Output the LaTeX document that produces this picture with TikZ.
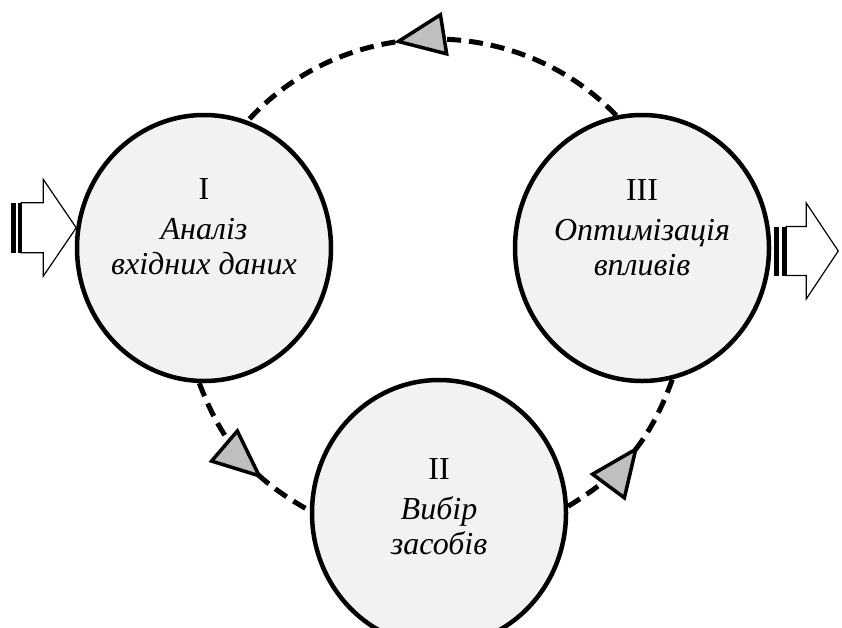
\documentclass[tikz,border=0pt]{standalone}
\usepackage{fontspec}
\setmainfont{Liberation Serif}
\usetikzlibrary{shapes.geometric,arrows.meta,decorations.markings,positioning}

\definecolor{stagefill}{HTML}{F2F2F2}
\definecolor{tipfill}{HTML}{BFBFBF}

\tikzset{%
  every stage/.style={
    ellipse,
    draw,
    line width=4.5pt,
    fill=stagefill,
    minimum width=254pt,
    minimum height=266pt,
    inner sep=0pt
  },
  stage text/.style={
    align=center,
    inner sep=0pt,
    font=\fontsize{32}{35}\selectfont
  },
  cycletip/.tip={Triangle[length=52pt, width=44pt, fill=tipfill, line width=3.5pt]},
  cycle arc/.style={
    line width=5pt,
    dash pattern=on 14pt off 8pt,
    postaction={decorate},
    decoration={markings, mark=at position #1 with {\arrow{cycletip}}}
  },
  block arrow/.style={
    draw,
    line width=1.2pt,
    fill=white,
    line join=miter
  },
}

\begin{document}
\begin{tikzpicture}[x=1pt, y=1pt]

    \useasboundingbox (0,0) rectangle (842,-627);
    \clip (0,0) rectangle (842,-627);

    \node [every stage] (I) at (204,-248) {};
    \node [every stage] (II) at (439,-513) {};
    \node [every stage] (III) at (642,-248) {};

    \node [stage text] (I-text) at ([yshift=21]I.center) {I\\[5pt]\textit{Аналіз}\\\textit{вхідних даних}};
    \node [stage text] (II-text) at ([yshift=6]II.center) {II\\[5pt]\textit{Вибір}\\\textit{засобів}};
    \node [stage text] (III-text) at ([yshift=20]III.center) {III\\[5pt]\textit{Оптимізація}\\\textit{впливів}};

    \foreach \from/\to/\bend/\pos in {I.268/II.179/20/0.67, II.3/III.283/19.5/0.556, III.101/I.71/47/0.59}
      \draw [cycle arc=\pos] (\from) to [bend right=\bend] (\to);

    % input arrow
    \draw [block arrow] (I.171) -- ++(-33,48.5) -- ++(0,-23.5) -- ++(-22,0)
      -- ++(0,-50) -- ++(22,0) -- ++(0,-23.5) -- cycle;
    \fill ([shift={(-65.4,25)}]I.171) rectangle ++(5,-50);
    \fill ([shift={(-57.9,25)}]I.171) rectangle ++(2.9,-50);

    % output arrow
    \draw [block arrow] ([shift={(15,-3)}]III.east) -- ++(0,24.5) -- ++(20,0) -- ++(0,23.5)
      -- ++(32,-48) -- ++(-32,-48) -- ++(0,23.5) -- ++(-20,0) -- cycle;
    \fill ([shift={(3,21.5)}]III.east) rectangle ++(5,-49);
    \fill ([shift={(11,21.5)}]III.east) rectangle ++(4,-49);

\end{tikzpicture}
\end{document}
